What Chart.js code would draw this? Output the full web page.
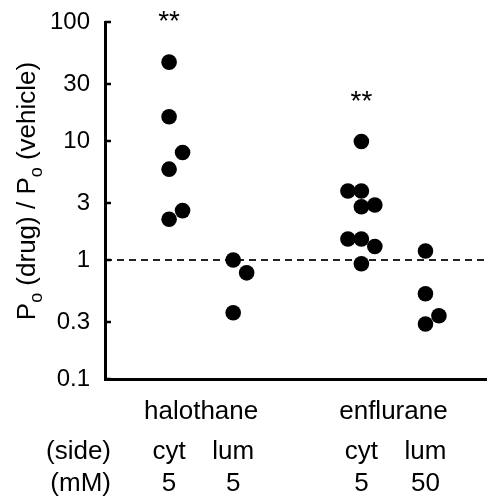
<!DOCTYPE html>
<html>
<head>
<meta charset="utf-8">
<script src="https://cdn.jsdelivr.net/npm/chart.js@4/dist/chart.umd.min.js"></script>
<style>
  html, body { margin: 0; padding: 0; background: #fff; }
  #wrap { width: 487px; height: 499px; }
</style>
</head>
<body>
<div id="wrap"><canvas id="poChart" width="487" height="499"></canvas></div>
<script>
// y axis ticks
const tickVals = [0.1, 0.3, 1, 3, 10, 30, 100];
const tickLabels = ['0.1', '0.3', '1', '3', '10', '30', '100'];

// conditions along the x axis
const drugs = ['halothane', 'enflurane'];
const conditionDrug = [0, 0, 1, 1];
const sides = ['cyt', 'lum', 'cyt', 'lum'];
const doses = ['5', '5', '5', '50'];
const slots = [1, 2, 4, 5];
const significant = [true, false, true, false];

// Po(drug)/Po(vehicle) per channel, with the lane each dot sits in (-1, 0, 1)
const halCyt = [46, 16, 8.0, 5.8, 2.6, 2.2];
const halCytLane = [0, 0, 1, 0, 1, 0];
const halLum = [1.0, 0.78, 0.36];
const halLumLane = [0, 1, 0];
const enfCyt = [9.9, 3.8, 3.8, 2.8, 2.9, 1.5, 1.5, 1.3, 0.93];
const enfCytLane = [0, -1, 0, 0, 1, -1, 0, 1, 0];
const enfLum = [1.19, 0.52, 0.34, 0.29];
const enfLumLane = [0, 0, 1, 0];

const groups = [halCyt, halLum, enfCyt, enfLum];
const lanes = [halCytLane, halLumLane, enfCytLane, enfLumLane];

const laneStep = 0.21;
const xMax = 5.96;
const FONT = '"Liberation Sans", Arial, Helvetica, sans-serif';

const points = [];
groups.forEach((vals, g) => {
  vals.forEach((v, i) => points.push({ x: slots[g] + lanes[g][i] * laneStep, y: v }));
});

// text, inward ticks, stars and the y title
const extras = {
  id: 'extras',
  afterDraw(chart) {
    const { ctx, chartArea } = chart;
    const xs = chart.scales.x, ys = chart.scales.y;
    ctx.save();
    ctx.fillStyle = '#000';
    ctx.strokeStyle = '#000';

    // inward tick marks
    ctx.lineWidth = 2.5;
    tickVals.forEach(v => {
      const py = Math.round(ys.getPixelForValue(v));
      ctx.beginPath();
      ctx.moveTo(chartArea.left, py);
      ctx.lineTo(chartArea.left + 6, py);
      ctx.stroke();
    });

    // significance stars
    ctx.font = '28px ' + FONT;
    ctx.textAlign = 'center';
    ctx.textBaseline = 'alphabetic';
    groups.forEach((vals, g) => {
      if (!significant[g]) return;
      const top = ys.getPixelForValue(Math.max(...vals));
      ctx.fillText('**', xs.getPixelForValue(slots[g]), top - 32);
    });

    // drug names, side and dose rows
    ctx.font = '26px ' + FONT;
    drugs.forEach((d, k) => {
      const idx = slots.filter((s, i) => conditionDrug[i] === k);
      const cx = (xs.getPixelForValue(idx[0]) + xs.getPixelForValue(idx[idx.length - 1])) / 2;
      ctx.fillText(d, cx, 419);
    });
    slots.forEach((s, i) => {
      const cx = xs.getPixelForValue(s);
      ctx.fillText(sides[i], cx, 459);
      ctx.fillText(doses[i], cx, 491);
    });
    ctx.textAlign = 'right';
    ctx.fillText('(side)', 111, 459);
    ctx.fillText('(mM)', 111, 491);

    // rotated y title with subscripts
    const parts = [
      ['P', false], ['o', true], [' (drug) / P', false], ['o', true], [' (vehicle)', false]
    ];
    const mainFont = '26px ' + FONT, subFont = '18px ' + FONT;
    let total = 0;
    parts.forEach(([t, sub]) => { ctx.font = sub ? subFont : mainFont; total += ctx.measureText(t).width; });
    ctx.translate(35, 191);
    ctx.rotate(-Math.PI / 2);
    ctx.textAlign = 'left';
    let px = -total / 2;
    parts.forEach(([t, sub]) => {
      ctx.font = sub ? subFont : mainFont;
      ctx.fillText(t, px, sub ? 7 : 0);
      px += ctx.measureText(t).width;
    });
    ctx.restore();
  }
};

new Chart(document.getElementById('poChart'), {
  type: 'scatter',
  data: {
    datasets: [
      {
        type: 'line',
        data: [{ x: 0, y: 1 }, { x: xMax, y: 1 }],
        borderColor: '#222',
        borderWidth: 2,
        borderDash: [7, 5],
        pointRadius: 0,
        order: 2
      },
      {
        data: points,
        backgroundColor: '#000',
        borderWidth: 0,
        pointRadius: 7.8,
        order: 1
      }
    ]
  },
  options: {
    responsive: false,
    animation: false,
    devicePixelRatio: 1,
    layout: { autoPadding: false, padding: { top: 22, right: 0, bottom: 0, left: 0 } },
    plugins: { legend: { display: false }, tooltip: { enabled: false } },
    scales: {
      x: {
        type: 'linear',
        min: 0,
        max: xMax,
        grid: { display: false, drawTicks: false },
        border: { display: true, width: 3, color: '#000' },
        ticks: { display: false },
        afterFit: s => {
          s.height = 120;
          s.paddingLeft = 0; s.paddingRight = 0;
        }
      },
      y: {
        type: 'logarithmic',
        min: 0.1,
        max: 100,
        grid: { display: false, drawTicks: false },
        border: { display: true, width: 3, color: '#000' },
        afterBuildTicks: s => { s.ticks = tickVals.map(v => ({ value: v })); },
        afterFit: s => {
          s.width = 105;
          s.paddingTop = 0; s.paddingBottom = 0;
        },
        ticks: {
          padding: 15,
          color: '#000',
          font: { family: FONT, size: 24 },
          callback: (v) => {
            const i = tickVals.indexOf(v);
            return i >= 0 ? tickLabels[i] : '';
          }
        }
      }
    }
  },
  plugins: [extras]
});
</script>
</body>
</html>
